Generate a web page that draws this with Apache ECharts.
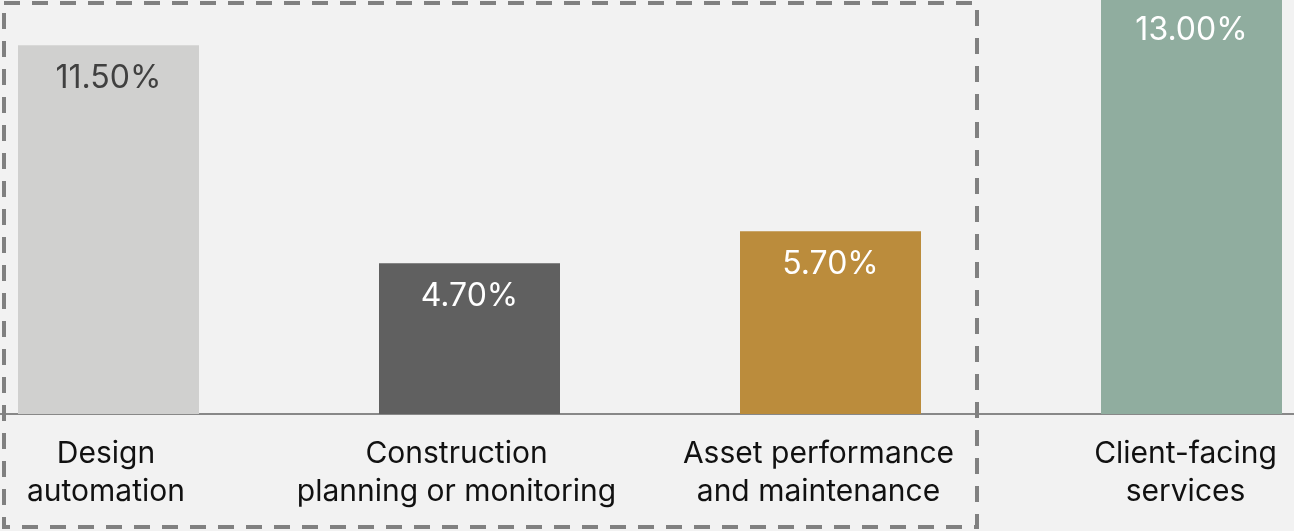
<!DOCTYPE html>
<html>
<head>
<meta charset="utf-8">
<script src="https://cdn.jsdelivr.net/npm/echarts@6/dist/echarts.min.js"></script>
<style>
html,body{margin:0;padding:0;background:#f2f2f2;overflow:hidden;width:1294px;height:531px;position:relative;}
#chart{position:absolute;left:-72px;top:-35px;width:1444px;height:566px;}
</style>
</head>
<body>
<div id="chart"></div>
<script>
const categories = ['Design\nautomation', 'Construction\nplanning or monitoring', 'Asset performance\nand maintenance', 'Client-facing\nservices'];
const values = [11.5, 4.7, 5.7, 13.0];
const barColors = ['#d0d0cf', '#606060', '#bb8c3c', '#90ad9f'];
const labelColors = ['#404040', '#ffffff', '#ffffff', '#ffffff'];

// per-label nudge to the left (px of right padding = 2x shift)
const labelPad = [5, 26, 24, 12];
const rich = {};
labelPad.forEach((p, i) => {
  rich['s' + i] = {color: '#111111', fontFamily: 'Inter', fontSize: 30, lineHeight: 38, padding: [0, p, 0, 0]};
});

const chart = echarts.init(document.getElementById('chart'), null, {renderer: 'canvas'});
chart.setOption({
  backgroundColor: '#f2f2f2',
  animation: false,
  grid: {left: 0, width: 1444, top: 0, height: 449, containLabel: false},
  xAxis: {
    type: 'category',
    data: categories,
    axisLine: {lineStyle: {color: '#888888', width: 2}},
    axisTick: {show: false},
    axisLabel: {
      color: '#111111', fontFamily: 'Inter', fontSize: 30, lineHeight: 38, margin: 21, interval: 0,
      formatter: (val, idx) => val.split('\n').map(l => '{s' + idx + '|' + l + '}').join('\n'),
      rich: rich
    }
  },
  yAxis: {type: 'value', min: 0, max: 14, show: false, splitLine: {show: false}},
  series: [{
    type: 'bar',
    barWidth: 181,
    data: values.map((v, i) => ({
      value: v,
      itemStyle: {color: barColors[i]},
      label: {color: labelColors[i]}
    })),
    label: {
      show: true, position: 'insideTop', distance: 17,
      fontFamily: 'Inter', fontSize: 32,
      formatter: p => p.value.toFixed(2) + '%'
    }
  }],
  graphic: [{
    type: 'rect', silent: true, z: 100,
    shape: {x: 76, y: 38, width: 973, height: 524},
    style: {fill: 'none', stroke: '#808080', lineWidth: 4, lineDash: [16, 12]}
  }]
});
</script>
</body>
</html>
